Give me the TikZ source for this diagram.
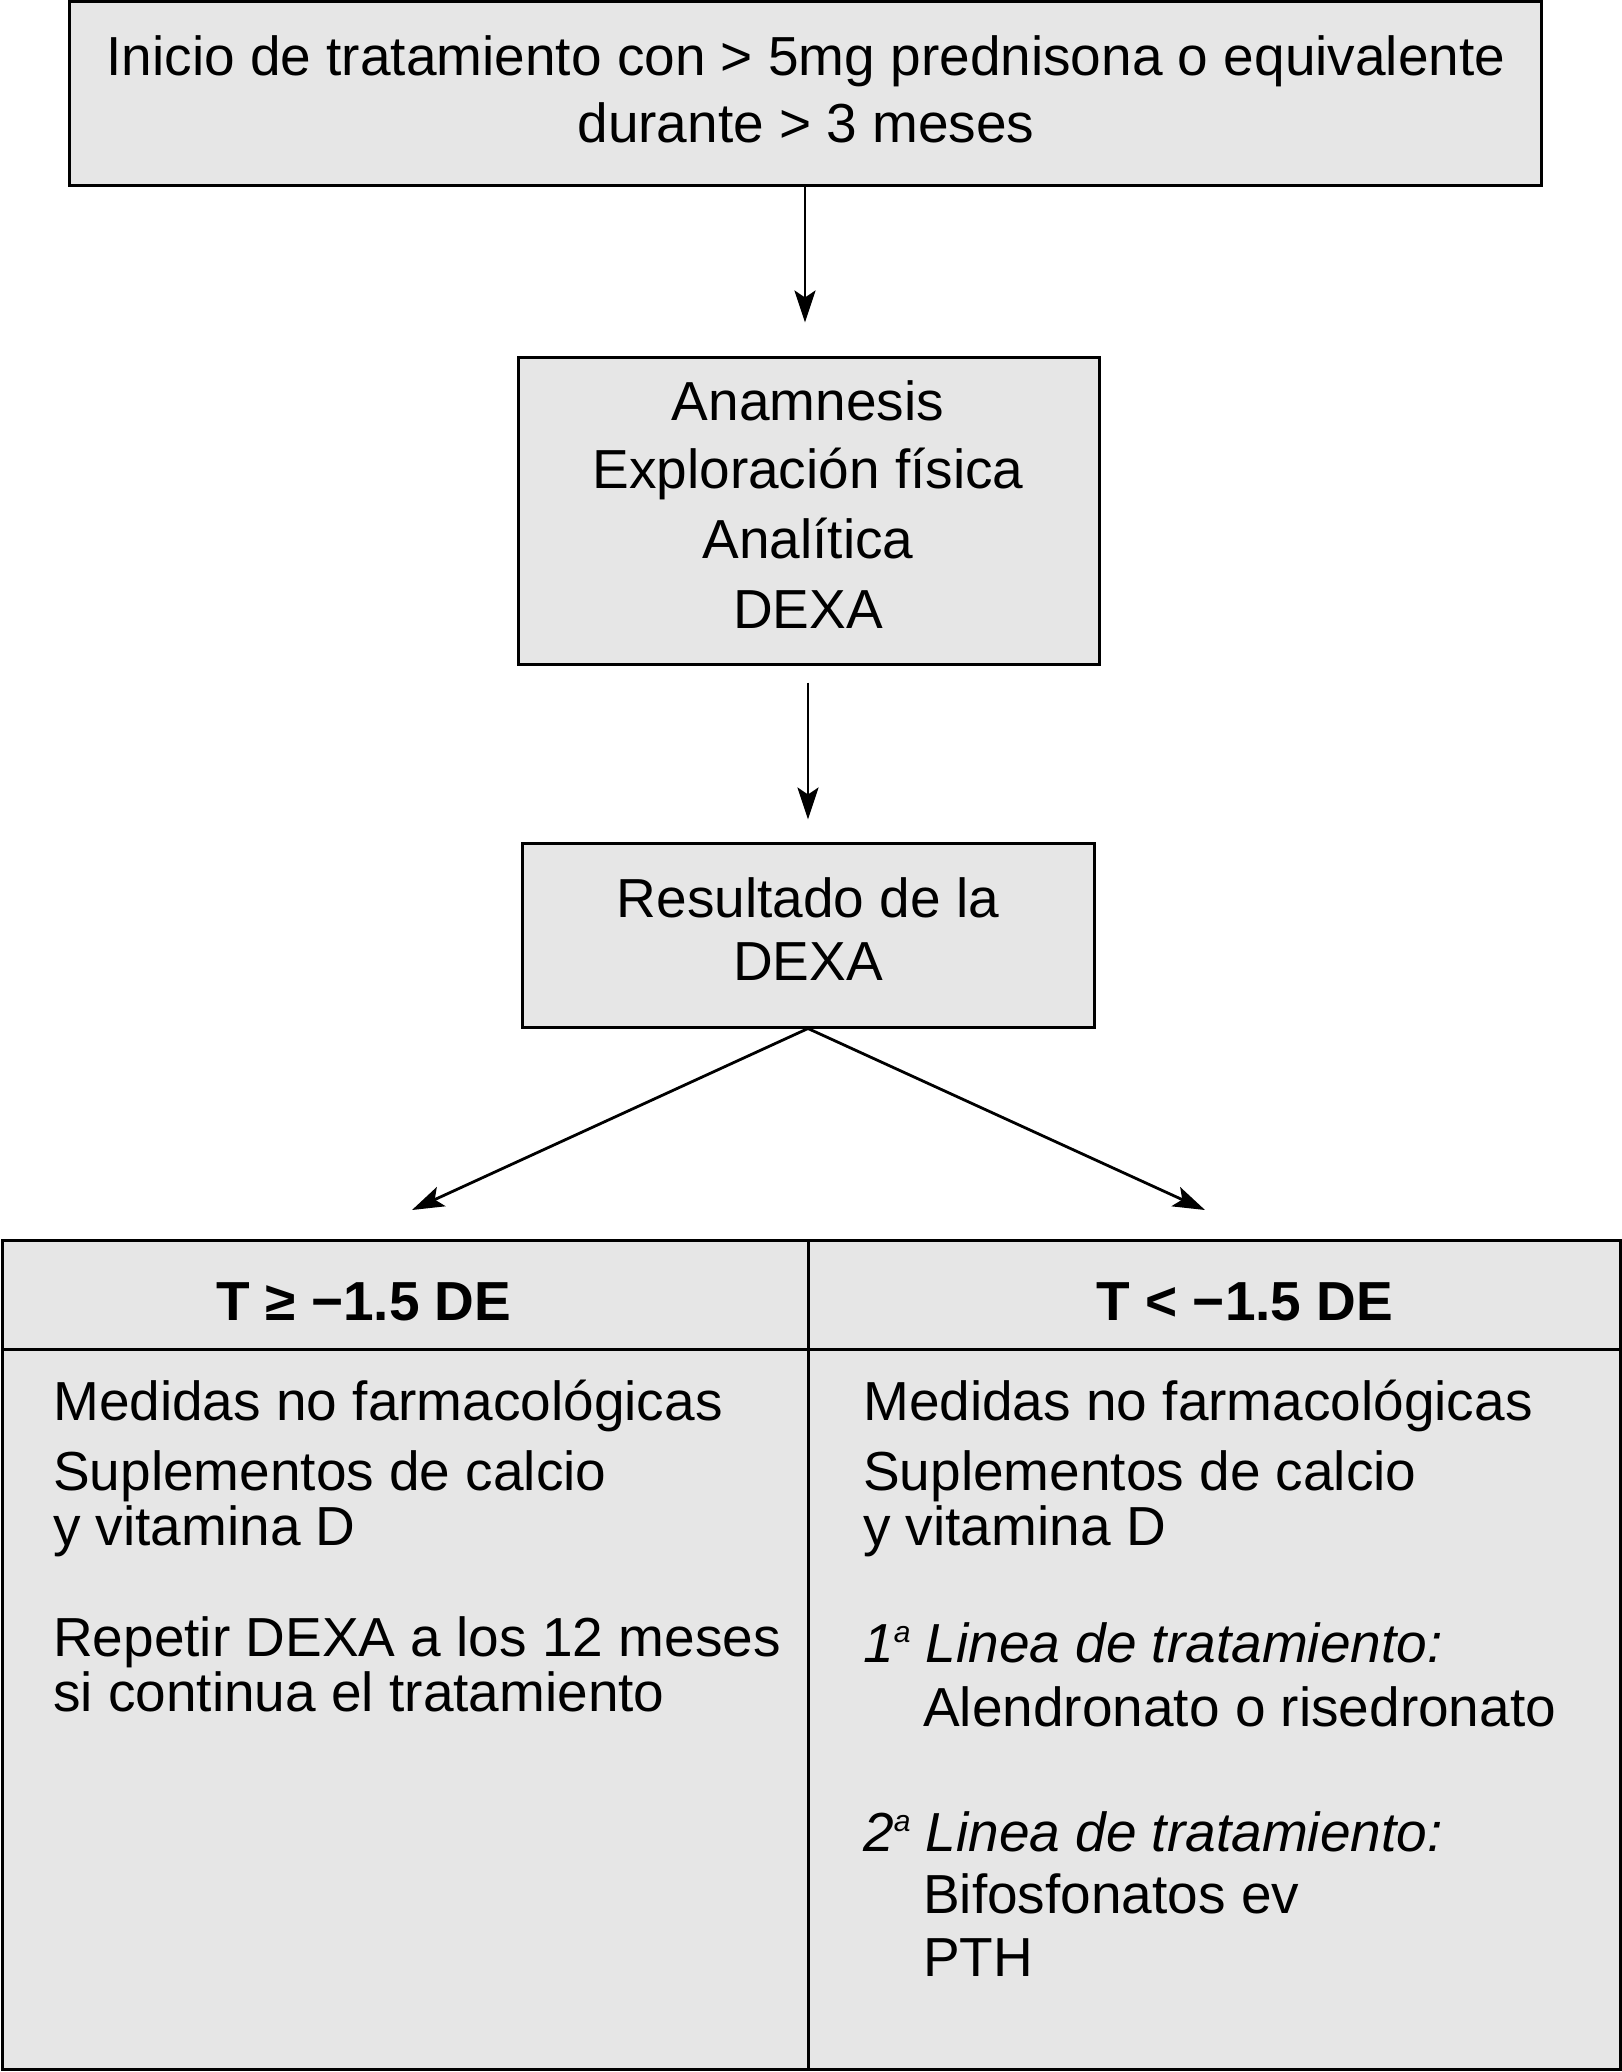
\documentclass[tikz,border=0pt]{standalone}
\usepackage{fontspec}
\setmainfont{Liberation Sans}
\usetikzlibrary{arrows.meta}
\definecolor{boxgray}{RGB}{230,230,230}
\newcommand{\ordsup}[1]{\raisebox{20pt}{\fontsize{30}{30}\selectfont #1}}
\tikzset{
  box/.style={draw=black, line width=3pt, fill=boxgray, inner sep=0pt, rectangle},
  txt/.style={anchor=base, inner sep=0pt, font=\fontsize{55}{66}\selectfont},
  ltxt/.style={anchor=base west, inner sep=0pt, font=\fontsize{55}{66}\selectfont},
  htxt/.style={anchor=base, inner sep=0pt, font=\fontsize{55}{66}\selectfont\bfseries},
  arr/.style={line width=2.8pt, -{Stealth[length=32pt,width=21pt,inset=7pt]}},
}
\begin{document}
\begin{tikzpicture}[x=1pt,y=-1pt]
\useasboundingbox (0,0) rectangle (1622,2072);
% top box
\node[box, minimum width=1472pt, minimum height=184pt] (b1) at (805,93) {};
\node[txt] (t1a) at (806,75) {Inicio de tratamiento con > 5mg prednisona o equivalente};
\node[txt] (t1b) at (806,142) {durante > 3 meses};
% second box
\node[box, minimum width=581pt, minimum height=307pt] (b2) at (809,510.5) {};
\node[txt] (t2a) at (808,420) {Anamnesis};
\node[txt] (t2b) at (808,488) {Exploración física};
\node[txt] (t2c) at (808,558) {Analítica};
\node[txt] (t2d) at (808,628) {DEXA};
% third box
\node[box, minimum width=572pt, minimum height=184pt] (b3) at (808,935) {};
\node[txt] (t3a) at (808,917) {Resultado de la};
\node[txt] (t3b) at (808,980) {DEXA};
% arrows
\draw[arr, shorten >=33pt] (b1.south) -- (b1.south |- b2.north);
\draw[arr, shorten <=17pt, shorten >=22pt] (b2.south -| b3.north) -- (b3.north);
\coordinate (tipL) at (412,1210);
\coordinate (tipR) at (1205,1210);
\draw[arr] (b3.south) -- (tipL);
\draw[arr] (b3.south) -- (tipR);
% table
\node[box, minimum width=806pt, minimum height=109pt] (hl) at (405,1294.5) {};
\node[box, minimum width=812pt, minimum height=109pt] (hr) at (1214,1294.5) {};
\node[box, minimum width=806pt, minimum height=720pt] (bl) at (405,1709) {};
\node[box, minimum width=812pt, minimum height=720pt] (br) at (1214,1709) {};
\node[htxt] (hlt) at (364,1320) {T ≥ −1.5 DE};
\node[htxt] (hrt) at (1245,1320) {T < −1.5 DE};
% left column body
\node[ltxt] (l1) at (53,1420) {Medidas no farmacológicas};
\node[ltxt] (l2) at (53,1490) {Suplementos de calcio};
\node[ltxt] (l3) at (53,1545) {y vitamina D};
\node[ltxt] (l4) at (53,1656) {Repetir DEXA a los 12 meses};
\node[ltxt] (l5) at (53,1711) {si continua el tratamiento};
% right column body
\node[ltxt] (r1) at (863,1420) {Medidas no farmacológicas};
\node[ltxt] (r2) at (863,1490) {Suplementos de calcio};
\node[ltxt] (r3) at (863,1545) {y vitamina D};
\node[ltxt] (r4) at (863,1662) {\itshape 1\ordsup{a} Linea de tratamiento:};
\node[ltxt] (r5) at (923,1726) {Alendronato o risedronato};
\node[ltxt] (r6) at (863,1851) {\itshape 2\ordsup{a} Linea de tratamiento:};
\node[ltxt] (r7) at (923,1913) {Bifosfonatos ev};
\node[ltxt] (r8) at (923,1976) {PTH};
\end{tikzpicture}
\end{document}
